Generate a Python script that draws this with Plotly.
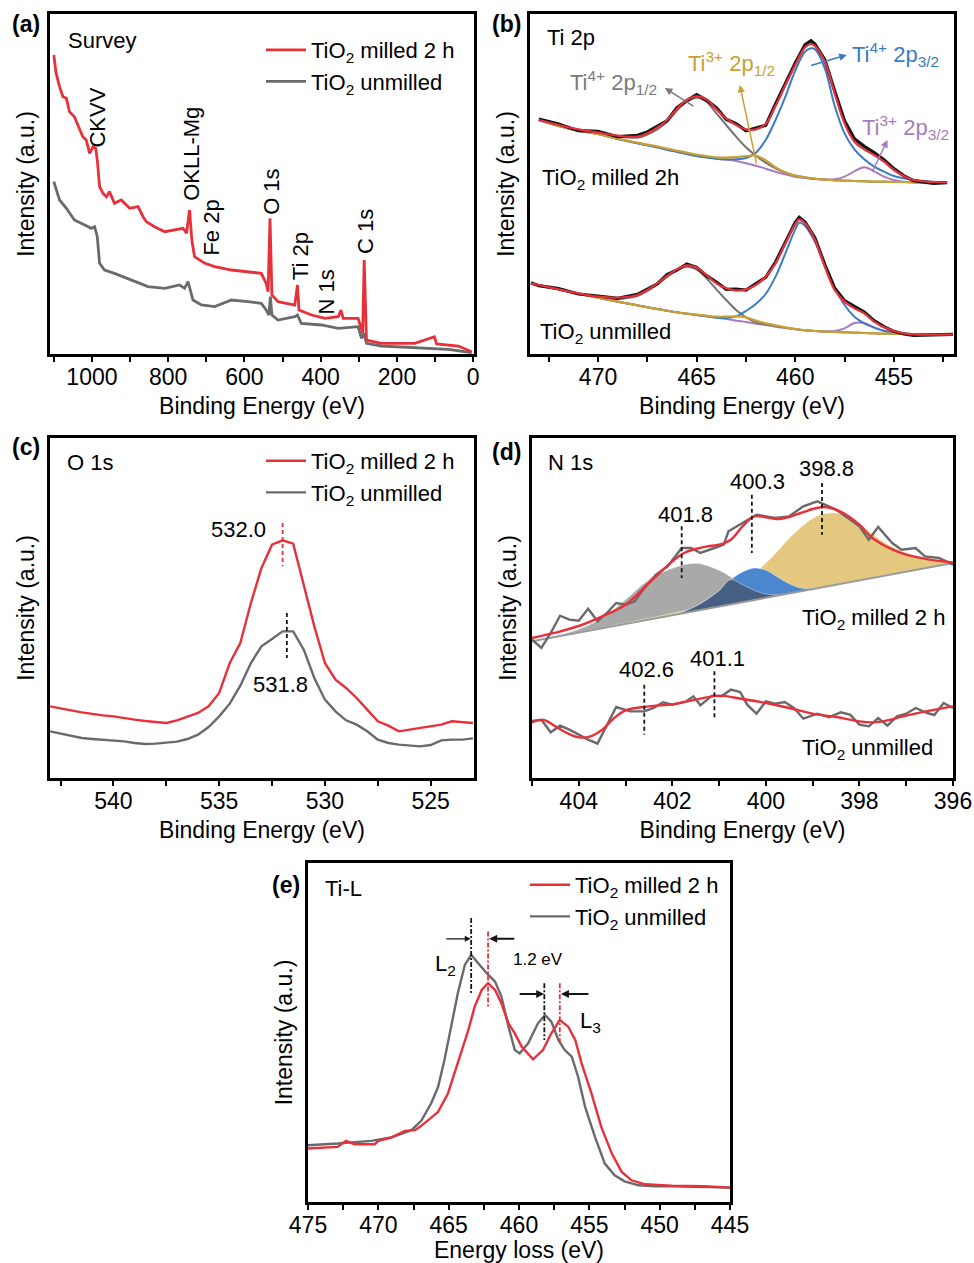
import numpy as np
import plotly.graph_objects as go

W, H = 974, 1263
FONT = "Liberation Sans, Arial, Helvetica, sans-serif"

RED = "#e8303a"
DGRAY = "#6a6a6c"
BLACK = "#151515"
C_GRAY = "#737373"
C_BLUE = "#3b7bc4"
C_GOLD = "#c9a032"
C_PURPLE = "#a67bc0"
F_GRAY = "#a9a9a9"
F_BLUE = "#4a87cf"
F_GOLD = "#e4c87f"
F_NAVY = "#465f82"

# ---------------- (a) XPS survey ----------------
SURVEY_E_MILLED = [1100, 1094, 1085, 1076, 1067, 1059, 1046, 1032, 1024, 1015,
                   1006, 997, 990, 986, 980, 971, 962, 954, 941, 923,
                   901, 879, 866, 857, 836, 809, 783, 761, 752, 744,
                   738, 731, 704, 678, 634, 591, 556, 543, 538, 533,
                   528, 512, 486, 468, 461, 457, 424, 389, 354, 347,
                   341, 302, 295, 290, 286, 280, 241, 153, 102, 96,
                   39, 4]
SURVEY_I_MILLED = [89.7, 84.2, 80.2, 77.2, 76.7, 72.7, 71.2, 67.7, 65.2, 64.2,
                   60.2, 62.2, 61.7, 58.2, 50.2, 48.2, 47.2, 48.7, 45.2, 46.2,
                   43.7, 44.2, 41.2, 39.7, 38.2, 36.7, 37.2, 37.7, 36.2, 43.2,
                   34.2, 29.2, 27.2, 26.2, 25.2, 24.7, 24.2, 21.2, 18.7, 40.7,
                   17.7, 15.7, 15.2, 14.7, 20.7, 13.2, 11.7, 10.7, 11.2, 13.2,
                   10.7, 10.7, 8.2, 6.2, 28.2, 4.2, 3.2, 3.2, 5.2, 3.0,
                   2.4, 0.7]
SURVEY_E_UNMILLED = [1100, 1085, 1067, 1046, 1019, 1002, 993, 986, 980, 967,
                     941, 897, 853, 809, 770, 757, 748, 735, 713, 678,
                     634, 591, 556, 543, 536, 532, 528, 512, 468, 461,
                     451, 398, 354, 302, 293, 286, 280, 241, 153, 66,
                     4]
SURVEY_I_UNMILLED = [51.7, 46.2, 43.7, 40.2, 38.7, 37.7, 38.2, 35.2, 27.2, 25.2,
                     24.2, 22.2, 20.2, 19.7, 20.7, 19.7, 21.7, 16.2, 14.7, 14.2,
                     16.2, 15.7, 15.2, 13.2, 11.7, 17.2, 11.7, 10.2, 11.2, 11.7,
                     9.2, 8.7, 7.7, 8.2, 4.7, 6.2, 3.2, 2.4, 2.0, 1.4,
                     0.4]
SURVEY_LABELS = ["CKVV", "OKLL-Mg", "Fe 2p", "O 1s", "Ti 2p", "N 1s", "C 1s"]
SURVEY_LABEL_E = [986, 739, 687, 529, 453, 384, 283]
SURVEY_LABEL_Y = [71.0, 60.2, 38.0, 48.5, 29.2, 18.7, 36.7]

# ---------------- (b) Ti 2p ----------------
TI_E_MILLED = [473, 472, 471, 470, 469, 468, 467.5, 467, 466.5, 466,
               465.5, 465, 464.5, 464, 463.5, 463, 462.5, 462, 461.5, 461,
               460.5, 460, 459.5, 459.2, 459, 458.5, 458, 457.5, 457, 456.5,
               456, 455.5, 455, 454.5, 454, 453, 452.3]
TI_RAW_MILLED = [70.5, 69.0, 67.0, 66.8, 65.2, 65.6, 66.6, 68.3, 70.0, 73.9,
                 76.0, 77.8, 76.2, 73.9, 70.4, 69.1, 67.0, 67.8, 68.6, 75.0,
                 81.3, 87.3, 92.8, 94.0, 93.0, 88.3, 78.9, 70.0, 64.6, 62.3,
                 60.4, 58.3, 55.6, 53.5, 52.0, 51.2, 51.4]
TI_FIT_MILLED = [70.2, 68.7, 67.4, 66.4, 65.5, 65.2, 66.2, 67.9, 70.2, 73.5,
                 76.2, 77.3, 76.4, 73.4, 70.7, 68.7, 67.4, 67.4, 69.0, 74.4,
                 80.7, 86.7, 92.0, 93.0, 92.4, 87.7, 78.2, 69.2, 63.7, 61.4,
                 59.7, 57.7, 55.2, 53.4, 52.2, 51.6, 51.5]
TI4_12_MILLED = [70.2, 68.6, 67.3, 66.3, 65.3, 64.9, 65.8, 67.4, 69.7, 73.0,
                 75.7, 76.9, 75.7, 72.2, 68.7, 65.2, 62.0, 59.5, 57.4, 55.7,
                 54.4, 53.5, 53.0, 52.7, 52.6, 52.3, 52.1, 52.0, 51.9, 51.8,
                 51.7, 51.7, 51.6, 51.6, 51.5, 51.4, 51.4]
TI4_32_MILLED = [70.2, 68.4, 67.0, 66.0, 64.5, 63.2, 62.6, 62.0, 61.3, 60.7,
                 60.0, 59.4, 59.0, 58.6, 58.4, 58.4, 58.8, 60.4, 64.2, 70.2,
                 77.2, 85.0, 90.7, 91.7, 91.4, 85.7, 74.4, 66.2, 61.4, 58.4,
                 56.2, 54.7, 53.4, 52.7, 52.2, 51.7, 51.5]
TI3_12_MILLED = [70.2, 68.4, 67.0, 66.0, 64.6, 63.4, 62.8, 62.3, 61.6, 61.0,
                 60.4, 59.8, 59.4, 59.0, 58.9, 59.1, 59.4, 59.5, 58.1, 56.0,
                 54.5, 53.5, 53.0, 52.7, 52.6, 52.3, 52.1, 52.0, 51.9, 51.8,
                 51.7, 51.7, 51.6, 51.6, 51.5, 51.4, 51.4]
TI3_32_MILLED = [70.2, 68.4, 67.0, 66.0, 64.5, 63.2, 62.6, 62.0, 61.3, 60.7,
                 60.0, 59.4, 59.0, 58.6, 58.3, 57.9, 57.2, 56.5, 55.6, 54.7,
                 53.9, 53.2, 52.8, 52.6, 52.5, 52.4, 52.4, 53.2, 54.8, 56.0,
                 54.8, 53.2, 52.2, 51.7, 51.5, 51.4, 51.4]

TI_E_UNMILLED = [473.4, 473, 472, 471, 470, 469, 468, 467.5, 467, 466.5,
                 466, 465.5, 465, 464.5, 464, 463.5, 463, 462.5, 462, 461.5,
                 461, 460.5, 460, 459.8, 459.5, 459, 458.5, 458, 457.5, 457,
                 456.5, 456, 455.5, 455, 454.5, 454, 453, 452]
TI_RAW_UNMILLED = [21.4, 20.5, 19.6, 18.0, 17.4, 16.7, 17.9, 19.5, 21.0, 23.8,
                   25.2, 27.0, 26.0, 23.5, 21.6, 19.4, 19.5, 19.2, 21.1, 23.0,
                   27.6, 33.6, 39.5, 41.0, 39.6, 34.8, 26.8, 19.8, 16.0, 14.3,
                   12.6, 10.0, 8.2, 6.8, 6.0, 5.6, 5.8, 5.9]
TI_FIT_UNMILLED = [21.2, 20.7, 19.4, 18.2, 17.2, 16.9, 17.7, 19.2, 21.2, 23.4,
                   25.4, 26.6, 25.9, 23.7, 21.2, 19.7, 19.0, 19.4, 20.7, 23.2,
                   27.2, 33.2, 39.0, 40.4, 39.2, 34.2, 26.2, 19.2, 15.7, 13.7,
                   12.2, 9.7, 8.0, 6.9, 6.2, 5.9, 5.8, 5.8]
TI4_12_UNMILLED = [21.2, 20.6, 19.4, 18.1, 17.0, 16.6, 17.4, 18.9, 20.9, 23.1,
                   25.1, 26.2, 25.4, 22.7, 19.4, 16.2, 13.2, 11.0, 9.6, 8.9,
                   8.4, 7.9, 7.5, 7.3, 7.1, 6.9, 6.7, 6.6, 6.5, 6.4,
                   6.3, 6.2, 6.1, 6.1, 6.0, 6.0, 5.9, 5.8]
TI4_32_UNMILLED = [21.2, 20.6, 19.4, 18.1, 16.9, 15.7, 14.6, 14.0, 13.5, 13.0,
                   12.5, 12.1, 11.7, 11.3, 10.9, 10.8, 11.3, 12.9, 15.0, 18.0,
                   23.2, 30.2, 37.4, 39.4, 38.4, 33.7, 26.7, 20.0, 14.7, 11.2,
                   9.2, 7.9, 7.0, 6.5, 6.2, 6.0, 5.9, 5.8]
TI3_12_UNMILLED = [21.2, 20.6, 19.4, 18.1, 16.9, 15.7, 14.6, 14.0, 13.5, 13.0,
                   12.5, 12.1, 11.8, 11.5, 11.2, 11.2, 11.3, 11.0, 10.0, 9.2,
                   8.6, 8.0, 7.5, 7.3, 7.1, 6.9, 6.7, 6.6, 6.5, 6.4,
                   6.3, 6.2, 6.1, 6.1, 6.0, 6.0, 5.9, 5.8]
TI3_32_UNMILLED = [21.2, 20.6, 19.4, 18.1, 16.9, 15.7, 14.6, 14.0, 13.5, 13.0,
                   12.5, 12.1, 11.7, 11.3, 10.9, 10.5, 10.0, 9.6, 9.1, 8.7,
                   8.2, 7.8, 7.4, 7.3, 7.1, 6.9, 6.8, 6.9, 7.7, 9.3,
                   9.3, 8.0, 6.9, 6.3, 6.1, 6.0, 5.9, 5.8]

# ---------------- (c) O 1s ----------------
O1S_E = [543.0, 542.5, 542.0, 541.5, 541.0, 540.5, 540.0, 539.5, 539.0, 538.5,
         538.0, 537.5, 537.0, 536.5, 536.0, 535.5, 535.0, 534.5, 534.0, 533.5,
         533.0, 532.5, 532.0, 531.5, 531.0, 530.5, 530.0, 529.5, 529.0, 528.5,
         528.0, 527.5, 527.0, 526.5, 526.0, 525.5, 525.0, 524.5, 524.0, 523.5,
         523.0]
O1S_MILLED = [21.5, 21.0, 20.3, 19.7, 19.2, 18.8, 18.5, 17.9, 17.5, 17.1,
              16.9, 16.5, 17.3, 18.5, 19.5, 21.5, 25.5, 34.5, 40.5, 52.5,
              63.0, 70.0, 71.3, 70.3, 57.5, 45.5, 34.5, 29.5, 27.0, 24.0,
              20.5, 17.0, 15.7, 14.0, 14.5, 15.0, 15.5, 16.0, 17.0, 16.8,
              16.5]
O1S_UNMILLED = [14.0, 13.3, 12.5, 12.0, 11.7, 11.5, 11.3, 11.0, 10.5, 10.2,
                10.3, 10.5, 10.9, 11.7, 13.0, 15.3, 18.5, 22.3, 27.7, 34.5,
                39.5, 41.7, 44.0, 44.0, 38.5, 30.0, 23.5, 20.0, 17.3, 16.0,
                14.0, 11.5, 10.5, 10.0, 9.7, 9.5, 9.9, 11.3, 11.5, 11.5,
                11.9]
O1S_PEAK_MILLED = 532.0
O1S_PEAK_UNMILLED = 531.8

# ---------------- (d) N 1s ----------------
N1S_E_RAW_MILLED = [405.0, 404.8, 404.6, 404.4, 404.2, 404.0, 403.8, 403.6, 403.4, 403.2,
                    403.0, 402.8, 402.6, 402.35, 402.1, 401.8, 401.6, 401.4, 401.1, 400.9,
                    400.8, 400.55, 400.2, 400.0, 399.8, 399.5, 399.2, 398.9, 398.5, 398.3,
                    398.0, 397.8, 397.6, 397.3, 397.1, 396.8, 396.6, 396.3, 396.0]
N1S_RAW_MILLED = [41.5, 39.0, 43.5, 48.7, 47.5, 47.2, 50.8, 47.0, 49.5, 52.5,
                  52.0, 53.0, 57.0, 61.0, 63.5, 69.0, 69.0, 67.5, 69.0, 70.0,
                  74.0, 76.0, 79.0, 78.5, 78.0, 78.5, 81.5, 83.0, 80.5, 78.5,
                  75.5, 71.5, 75.3, 70.5, 68.5, 69.0, 66.5, 66.0, 64.0]
N1S_E_FIT_MILLED = [405, 404.5, 404, 403.5, 403, 402.5, 402, 401.75, 401.5, 401.25,
                    401, 400.75, 400.5, 400.25, 400, 399.75, 399.5, 399.25, 399, 398.75,
                    398.5, 398.25, 398, 397.75, 397.5, 397.25, 397, 396.5, 396]
N1S_FIT_MILLED = [42.0, 43.6, 45.6, 48.5, 52.0, 58.5, 65.0, 67.5, 68.7, 69.5,
                  70.0, 71.5, 75.5, 78.5, 78.2, 77.7, 78.3, 79.5, 80.7, 81.3,
                  80.5, 78.7, 76.0, 72.3, 70.0, 68.3, 67.0, 65.5, 64.7]
N1S_E_COMP = [405, 404.5, 404, 403.5, 403, 402.5, 402, 401.5, 401, 400.75,
              400.5, 400.25, 400, 399.75, 399.5, 399.25, 399, 398.75, 398.5, 398.25,
              398, 397.5, 397, 396.5, 396]
N1S_COMP_401 = [41.0, 42.6, 44.6, 48.0, 53.5, 59.5, 62.9, 64.4, 62.3, 60.3,
                58.0, 56.3, 55.2, 55.0, 55.4, 56.0, 56.7, 57.3, 58.0, 58.6,
                59.3, 60.6, 61.9, 63.2, 64.5]
N1S_COMP_400 = [41.0, 42.3, 43.6, 44.9, 46.2, 47.5, 48.8, 51.5, 56.2, 59.5,
                61.8, 63.0, 62.3, 60.3, 58.3, 57.0, 56.9, 57.3, 58.0, 58.6,
                59.3, 60.6, 61.9, 63.2, 64.5]
N1S_COMP_398 = [41.0, 42.3, 43.7, 45.1, 46.5, 47.9, 49.4, 51.0, 53.0, 54.6,
                57.0, 61.0, 64.5, 68.0, 72.0, 75.2, 77.9, 79.3, 79.5, 78.6,
                76.3, 71.0, 67.5, 65.7, 64.5]
N1S_BG_E = [405, 396]
N1S_BG = [41.0, 64.5]
N1S_E_RAW_UNMILLED = [405.05, 404.8, 404.6, 404.4, 404.2, 404.0, 403.8, 403.6, 403.2, 402.9,
                      402.6, 402.4, 402.2, 402.0, 401.7, 401.55, 401.4, 401.15, 400.95, 400.75,
                      400.55, 400.4, 400.2, 400.0, 399.8, 399.6, 399.4, 399.2, 398.9, 398.65,
                      398.4, 398.2, 398.0, 397.8, 397.6, 397.4, 397.2, 397.0, 396.8, 396.55,
                      396.4, 396.2, 396.0]
N1S_RAW_UNMILLED = [17.0, 17.5, 13.7, 15.7, 14.5, 13.0, 11.5, 10.3, 21.3, 20.0,
                    20.0, 21.0, 22.7, 22.0, 23.0, 24.5, 21.8, 24.7, 24.5, 26.5,
                    25.8, 22.0, 19.3, 23.0, 22.3, 22.8, 21.0, 17.8, 19.3, 18.2,
                    19.7, 19.0, 16.0, 15.5, 18.0, 15.7, 18.5, 19.3, 21.0, 19.5,
                    18.9, 22.5, 21.0]
N1S_E_FIT_UNMILLED = [405, 404.75, 404.5, 404.25, 404, 403.75, 403.5, 403.25, 403, 402.5,
                      402, 401.5, 401, 400.5, 400, 399.5, 399, 398.5, 398, 397.75,
                      397.5, 397, 396.5, 396]
N1S_FIT_UNMILLED = [16.7, 17.4, 15.5, 13.5, 12.2, 12.5, 14.5, 17.9, 20.3, 21.5,
                    22.1, 23.5, 24.7, 23.7, 22.5, 21.0, 19.3, 18.3, 17.0, 16.7,
                    17.0, 18.7, 20.2, 21.5]
N1S_PEAKS_MILLED = [401.8, 400.3, 398.8]
N1S_PEAKS_UNMILLED = [402.6, 401.1]

# ---------------- (e) Ti-L EELS ----------------
TIL_E_UNMILLED = [475.0, 472.9, 470.5, 469.1, 467.65, 466.95, 466.25, 465.75, 465.3, 464.8,
                  464.35, 463.85, 463.4, 462.9, 462.3, 461.7, 461.25, 460.75, 460.3, 459.95,
                  459.35, 458.65, 458.15, 457.7, 457.2, 456.75, 456.25, 455.8, 455.3, 454.6,
                  453.9, 453.2, 452.5, 451.5, 450.3, 449.15, 446.8, 445.0]
TIL_UNMILLED = [17.0, 17.5, 18.3, 19.3, 21.5, 24.3, 29.5, 34.5, 42.5, 52.5,
                62.5, 71.0, 74.0, 71.5, 68.5, 66.0, 61.5, 52.5, 45.5, 44.5,
                47.5, 53.5, 56.0, 54.0, 48.5, 45.5, 43.5, 37.5, 28.5, 19.5,
                11.5, 8.0, 6.2, 5.0, 4.7, 4.7, 4.5, 4.3]
TIL_E_MILLED = [475.0, 474.05, 472.9, 472.3, 471.7, 470.25, 470.0, 469.1, 468.1, 467.4,
                467.05, 466.45, 465.75, 465.05, 464.35, 463.6, 463.15, 462.65, 462.2, 461.7,
                461.25, 460.75, 460.3, 459.8, 459.0, 458.3, 457.7, 457.1, 456.5, 456.0,
                455.55, 454.85, 454.15, 453.4, 452.7, 452.0, 451.05, 449.15, 446.8, 445.0]
TIL_MILLED = [16.0, 16.2, 16.5, 18.3, 17.3, 17.3, 18.3, 19.3, 21.3, 21.5,
              22.5, 24.5, 27.0, 32.5, 41.5, 51.5, 58.5, 63.5, 65.5, 63.5,
              59.5, 53.5, 50.5, 46.5, 42.7, 45.5, 50.5, 54.5, 52.5, 48.5,
              41.5, 32.5, 22.5, 14.5, 9.0, 6.5, 5.3, 4.9, 4.7, 4.3]
TIL_PEAKS_UNMILLED = [463.4, 458.2]
TIL_PEAKS_MILLED = [462.2, 457.1]


def X(p):
    return p / W


def Y(p):
    return 1 - p / H


# panel frames in pixels: left, top, right, bottom
FRAMES = {"": (50, 14, 474, 354), "2": (530, 14, 954, 354), "3": (50, 438, 474, 778),
          "4": (532, 438, 953, 778), "5": (308, 863, 730, 1202)}

fig = go.Figure()


def line(x, y, ax, color, width, name=None, legend=None, rank=None, shape="linear", dash=None,
         fill=None, fillcolor=None):
    fig.add_trace(go.Scatter(
        x=x, y=y, xaxis="x" + ax, yaxis="y" + ax, mode="lines",
        line=dict(color=color, width=width, shape=shape, dash=dash),
        name=name if name else "", showlegend=legend is not None,
        legend=legend if legend else "legend", legendrank=rank if rank else 1000,
        legendgroup=name if name else None,
        fill=fill, fillcolor=fillcolor, hoverinfo="skip"))


MILLED = "TiO<sub>2</sub> milled 2 h"
UNMILLED = "TiO<sub>2</sub> unmilled"

# (a)
line(SURVEY_E_UNMILLED, SURVEY_I_UNMILLED, "", DGRAY, 2.8, UNMILLED, "legend", 2)
line(SURVEY_E_MILLED, SURVEY_I_MILLED, "", RED, 2.8, MILLED, "legend", 1)

# (b)
for E, raw, fit, c412, c432, c312, c332 in [
        (TI_E_MILLED, TI_RAW_MILLED, TI_FIT_MILLED, TI4_12_MILLED, TI4_32_MILLED, TI3_12_MILLED, TI3_32_MILLED),
        (TI_E_UNMILLED, TI_RAW_UNMILLED, TI_FIT_UNMILLED, TI4_12_UNMILLED, TI4_32_UNMILLED, TI3_12_UNMILLED, TI3_32_UNMILLED)]:
    line(E, c332, "2", C_PURPLE, 2, shape="spline")
    line(E, c412, "2", C_GRAY, 2, shape="spline")
    line(E, c432, "2", C_BLUE, 2, shape="spline")
    line(E, c312, "2", C_GOLD, 2.2, shape="spline")
    line(E, raw, "2", BLACK, 3.2)
    line(E, fit, "2", RED, 2.2, shape="spline")

# (c)
line(O1S_E, O1S_UNMILLED, "3", DGRAY, 2.4, UNMILLED, "legend2", 2)
line(O1S_E, O1S_MILLED, "3", RED, 2.4, MILLED, "legend2", 1)
line([O1S_PEAK_MILLED] * 2, [76.5, 63.5], "3", RED, 1.8, dash="4px,3px")
line([O1S_PEAK_UNMILLED] * 2, [49.5, 36.0], "3", BLACK, 1.8, dash="4px,3px")

# (d) components
ov = list(np.minimum(N1S_COMP_401, N1S_COMP_400))
for comp, fc in [(N1S_COMP_401, F_GRAY), (N1S_COMP_398, F_GOLD), (N1S_COMP_400, F_BLUE), (ov, F_NAVY)]:
    line(N1S_BG_E, N1S_BG, "4", "rgba(0,0,0,0)", 0)
    line(N1S_E_COMP, comp, "4", "rgba(255,255,255,0.5)", 0.8, shape="spline", fill="tonexty", fillcolor=fc)
line(N1S_BG_E, N1S_BG, "4", "#9a9a9a", 2)
line(N1S_E_RAW_MILLED, N1S_RAW_MILLED, "4", DGRAY, 2.4)
line(N1S_E_FIT_MILLED, N1S_FIT_MILLED, "4", RED, 2.4, shape="spline")
line(N1S_E_RAW_UNMILLED, N1S_RAW_UNMILLED, "4", DGRAY, 2.4)
line(N1S_E_FIT_UNMILLED, N1S_FIT_UNMILLED, "4", RED, 2.4, shape="spline")
for e, (y0, y1) in zip(N1S_PEAKS_MILLED, [(75.5, 60.0), (85.0, 67.5), (88.5, 73.0)]):
    line([e, e], [y0, y1], "4", BLACK, 1.8, dash="4px,3px")
for e, (y0, y1) in zip(N1S_PEAKS_UNMILLED, [(28.0, 13.0), (32.0, 17.5)]):
    line([e, e], [y0, y1], "4", BLACK, 1.8, dash="4px,3px")

# (e)
line(TIL_E_UNMILLED, TIL_UNMILLED, "5", DGRAY, 2.4, UNMILLED, "legend3", 2)
line(TIL_E_MILLED, TIL_MILLED, "5", RED, 2.4, MILLED, "legend3", 1)
line([TIL_PEAKS_UNMILLED[0]] * 2, [85.0, 62.0], "5", BLACK, 1.8, dash="5px,2px,2px,2px")
line([TIL_PEAKS_MILLED[0]] * 2, [81.0, 58.0], "5", RED, 1.8, dash="5px,2px,2px,2px")
line([TIL_PEAKS_UNMILLED[1]] * 2, [65.5, 48.5], "5", BLACK, 1.8, dash="5px,2px,2px,2px")
line([TIL_PEAKS_MILLED[1]] * 2, [65.5, 47.7], "5", RED, 1.8, dash="5px,2px,2px,2px")

# ---------------- axes ----------------
XSPEC = {
    "": ([1110, -2], 200, 100, "Binding Energy (eV)"),
    "2": ([473.45, 451.95], 5, 2.5, "Binding Energy (eV)"),
    "3": ([543.0, 522.95], 5, 2.5, "Binding Energy (eV)"),
    "4": ([405.0, 396.0], 2, 1, "Binding Energy (eV)"),
    "5": ([475.0, 445.0], 5, 2.5, "Energy loss (eV)"),
}
YR = {"": [0, 102], "2": [0, 102], "3": [0, 102], "4": [0, 102], "5": [0, 101.5]}

layout = dict(
    width=W, height=H, margin=dict(l=0, r=0, t=0, b=0, autoexpand=False),
    paper_bgcolor="white", plot_bgcolor="white",
    font=dict(family=FONT, size=22, color="black"),
    showlegend=True,
)
for k, (l, t, r, b) in FRAMES.items():
    rng, dt, mn, title = XSPEC[k]
    layout["xaxis" + k] = dict(
        domain=[X(l), X(r)], range=rng, anchor="y" + k, dtick=dt, tick0=0,
        ticks="outside", ticklen=5, tickwidth=1.6, tickcolor="black",
        ticklabelstandoff=-4,
        showline=True, linewidth=2.6, linecolor="black", mirror=True,
        showgrid=False, zeroline=False, tickfont=dict(size=23), automargin=False,
        minor=dict(dtick=mn, tick0=0, ticks="outside", ticklen=5, tickwidth=1.6,
                   tickcolor="black", showgrid=False),
        title=dict(text=title, font=dict(size=23), standoff=9),
    )
    layout["yaxis" + k] = dict(
        domain=[Y(b), Y(t)], range=YR[k], anchor="x" + k, automargin=False,
        showticklabels=False, ticks="", showline=True, linewidth=2.6,
        linecolor="black", mirror=True, showgrid=False, zeroline=False,
        title=dict(text="Intensity (a.u.)", font=dict(size=23), standoff=7),
    )

leg = dict(font=dict(size=22), bgcolor="rgba(0,0,0,0)", borderwidth=0,
           xanchor="left", yanchor="top", tracegroupgap=0, itemwidth=40)
layout["legend"] = dict(leg, x=X(261), y=Y(29))
layout["legend2"] = dict(leg, x=X(261), y=Y(440))
layout["legend3"] = dict(leg, x=X(525), y=Y(864))

ann = []


def text(t, x, y, xref="paper", yref="paper", size=22, color="black", xanchor="left",
         yanchor="middle", angle=0):
    ann.append(dict(text=t, x=x, y=y, xref=xref, yref=yref, showarrow=False,
                    font=dict(size=size, color=color), xanchor=xanchor,
                    yanchor=yanchor, textangle=angle))


def arrow(x, y, axv, ayv, ax, color, width=1.5, head=2, size=1.0):
    ann.append(dict(text="", x=x, y=y, ax=axv, ay=ayv, xref="x" + ax, yref="y" + ax,
                    axref="x" + ax, ayref="y" + ax, showarrow=True, arrowhead=head,
                    arrowsize=size, arrowwidth=width, arrowcolor=color))


# panel letters
for lab, (x, y) in zip("abcde", [(10, 24), (490, 24), (10, 447), (490, 452), (270, 885)]):
    text("<b>(%s)</b>" % lab, X(x), Y(y), size=23)

# (a)
text("Survey", X(66), Y(40))
for lab, e, yv in zip(SURVEY_LABELS, SURVEY_LABEL_E, SURVEY_LABEL_Y):
    text(lab, e, yv, "x", "y", xanchor="center", angle=-90)

# (b)
text("Ti 2p", X(545), Y(37))
text("Ti<sup>4+</sup> 2p<sub>1/2</sub>", X(568), Y(82), color="#7b7b7b")
text("Ti<sup>3+</sup> 2p<sub>1/2</sub>", X(686), Y(64), color=C_GOLD)
text("Ti<sup>4+</sup> 2p<sub>3/2</sub>", X(850), Y(54), color=C_BLUE)
text("Ti<sup>3+</sup> 2p<sub>3/2</sub>", X(860), Y(128), color=C_PURPLE)
text("TiO<sub>2</sub> milled 2h", X(540), Y(179))
text("TiO<sub>2</sub> unmilled", X(538), Y(333))
arrow(466.61, 79.8, 465.09, 74.1, "2", "#7b7b7b")
arrow(462.81, 80.7, 461.95, 56.7, "2", C_GOLD)
arrow(457.39, 89.7, 459.27, 86.4, "2", C_BLUE)
arrow(455.32, 64.2, 456.13, 54.3, "2", C_PURPLE)

# (c)
text("O 1s", X(65), Y(462))
text("532.0", 532.7, 74.5, "x3", "y3", xanchor="right")
text("531.8", 532.1, 28.0, "x3", "y3", xanchor="center")

# (d)
text("N 1s", X(546), Y(462))
for lab, e, yv in [("401.8", 401.71, 79.0), ("400.3", 400.17, 89.0), ("398.8", 398.71, 93.0),
                   ("402.6", 402.55, 32.7), ("401.1", 401.04, 36.0)]:
    text(lab, e, yv, "x4", "y4", xanchor="center")
text("TiO<sub>2</sub> milled 2 h", X(800), Y(619))
text("TiO<sub>2</sub> unmilled", X(800), Y(749))

# (e)
text("Ti-L", X(323), Y(888))
text("L<sub>2</sub>", 465.2, 71.0, "x5", "y5", xanchor="center")
text("L<sub>3</sub>", 454.9, 54.0, "x5", "y5", xanchor="center")
text("1.2 eV", 458.64, 72.5, "x5", "y5", size=17, xanchor="center")
arrow(463.43, 78.8, 465.28, 78.8, "5", BLACK, 1.2, 2, 1.0)
arrow(462.12, 78.8, 460.23, 78.8, "5", BLACK, 2.0, 2, 0.8)
arrow(458.21, 62.3, 460.06, 62.3, "5", BLACK, 2.0, 2, 0.8)
arrow(457.02, 62.3, 454.96, 62.3, "5", BLACK, 2.0, 2, 0.8)

layout["annotations"] = ann
fig.update_layout(**layout)
fig.write_html("out.html")
